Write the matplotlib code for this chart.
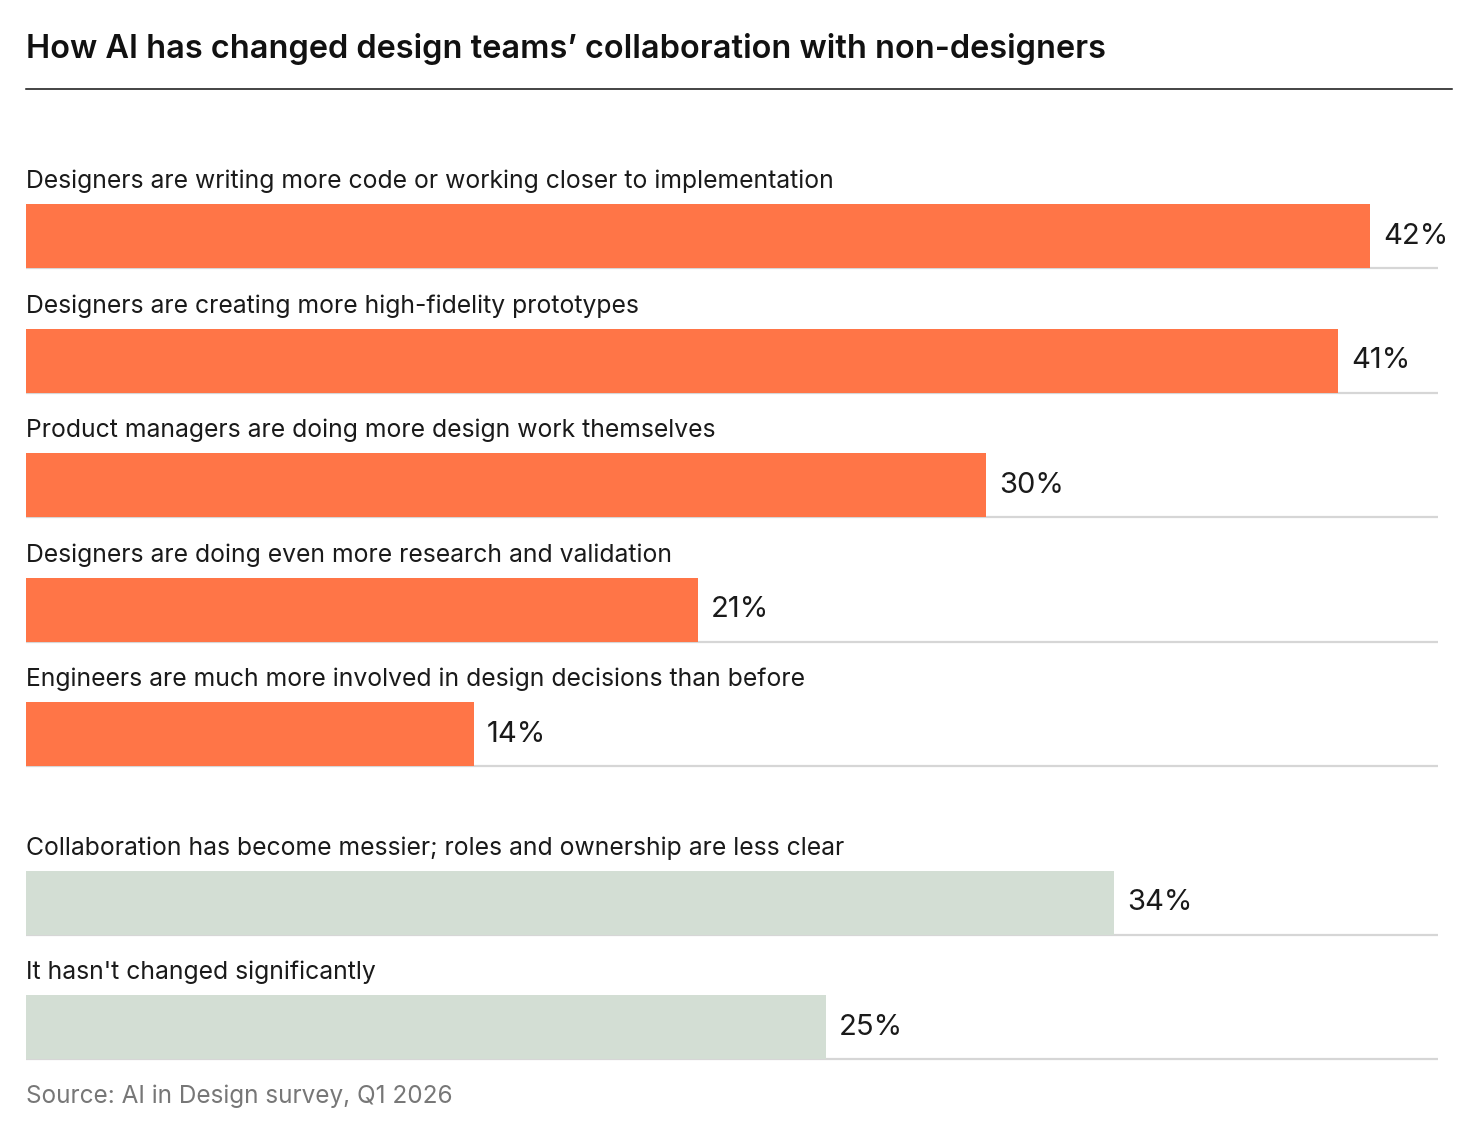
import matplotlib
matplotlib.use("Agg")
import matplotlib.pyplot as plt
from matplotlib.lines import Line2D

plt.rcParams['font.family'] = ['Inter', 'DejaVu Sans']

labels = [
    "Designers are writing more code or working closer to implementation",
    "Designers are creating more high-fidelity prototypes",
    "Product managers are doing more design work themselves",
    "Designers are doing even more research and validation",
    "Engineers are much more involved in design decisions than before",
    "Collaboration has become messier; roles and ownership are less clear",
    "It hasn't changed significantly",
]
values = [42, 41, 30, 21, 14, 34, 25]
group = [0, 0, 0, 0, 0, 1, 1]

title = "How AI has changed design teams\u2019 collaboration with non-designers"
source = "Source: AI in Design survey, Q1 2026"

orange = "#ff7547"
green = "#d3ded4"
colors = [orange if g == 0 else green for g in group]

W, H = 1480, 1128
fig = plt.figure(figsize=(W / 100, H / 100), dpi=100)

# axes placed in pixels: left 26, right 1438, top 100, bottom 1070
top_px, bot_px = 100, 1070
ax = fig.add_axes([26 / W, 1 - bot_px / H, (1438 - 26) / W, (bot_px - top_px) / H])

unit = 124.6  # px between bar centres
first = 236   # px of first bar centre
gap = 0.35
pos = [i + gap * g for i, g in enumerate(group)]
bh = 64 / unit

xmax = 1412 / 32.0
ax.set_xlim(0, xmax)
ax.set_ylim((bot_px - first) / unit, (top_px - first) / unit)

for i in range(len(values)):
    y = pos[i]
    ax.hlines(y + bh / 2, 0, xmax, color="#d6d6d6", lw=1.6, zorder=1)
    ax.barh(y, values[i], height=bh, color=colors[i], zorder=2)
    ax.text(0, y - bh / 2 - 16 / unit, labels[i], fontsize=17.8, color="#1a1a1a",
            va="baseline", ha="left")
    ax.text(values[i] + 13 / 32.0, y, str(values[i]) + "%", fontsize=21,
            color="#1a1a1a", va="center", ha="left")

ax.axis("off")

fig.text(26 / W, 1 - 58 / H, title, fontsize=23.4, fontweight="semibold",
         color="#111111", va="baseline", ha="left")
fig.add_artist(Line2D([26 / W, 1452 / W], [1 - 89 / H, 1 - 89 / H],
                      color="#111111", lw=1.1))
fig.text(26 / W, 1 - 1103 / H, source, fontsize=17.5, color="#777777",
         va="baseline", ha="left")

fig.savefig("out.png", dpi=100)
